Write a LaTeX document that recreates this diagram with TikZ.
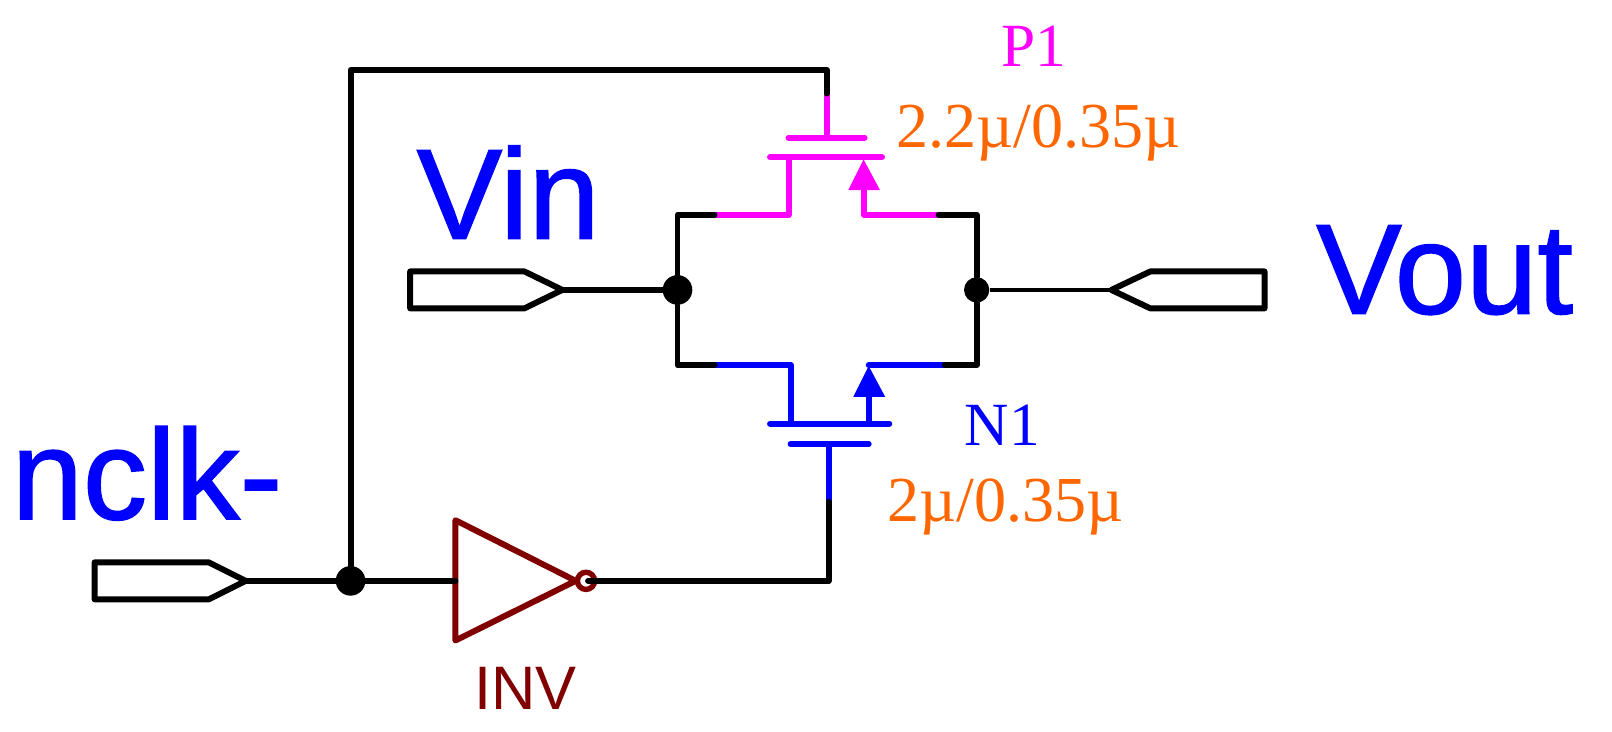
\documentclass[tikz,border=0pt]{standalone}
\usepackage{fontspec}
\setmainfont{Liberation Serif}
\setsansfont{Liberation Sans}
\newfontfamily\pinfont[FakeBold=1.2]{Liberation Sans}

\begin{document}
\begin{tikzpicture}[x=0.02cm,y=0.02cm]
\tikzstyle{every node}+=[inner sep=0pt]
\tikzstyle{wire}=[line width=3.3pt,line join=round,line cap=round]
\tikzstyle{thinwire}=[line width=1.9pt]
\tikzstyle{dot}=[circle,fill=black,draw=none]
\tikzstyle{pinlabel}=[blue,font=\pinfont\fontsize{71}{71}\selectfont,anchor=base west]
\tikzstyle{sizelabel}=[color=sizeorange,font=\fontsize{35.5}{36}\selectfont,anchor=base]
\tikzstyle{devlabel}=[font=\fontsize{34}{36}\selectfont,anchor=base]
\definecolor{sizeorange}{HTML}{FF6600}
\definecolor{invred}{HTML}{800000}
\definecolor{pmosmag}{HTML}{FF00FF}
\useasboundingbox (0,0) rectangle (1568,-712);
% pin labels
\node [pinlabel] (vinlabel) at (405,-232) {Vin};
\node [pinlabel] (voutlabel) at (1280,-305) {Vout};
\node [pinlabel] (nclklabel) at (11,-505) {nclk-};
% junctions
\node [dot,minimum size=16.4pt] (nclkdot) at (341,-565) {};
\node [dot,minimum size=16.4pt] (vindot) at (659,-282) {};
\node [dot,minimum size=14pt] (voutdot) at (950,-282) {};
% pins
\coordinate (nclkpin) at (239,-565);
\coordinate (vinpin) at (547,-282);
\coordinate (voutpin) at (1081,-282);
\draw [wire] (92,-547) -- (203,-547) -- (nclkpin) -- (203,-583) -- (92,-583) -- cycle;
\draw [wire] (399,-264) -- (510,-264) -- (vinpin) -- (510,-300) -- (399,-300) -- cycle;
\draw [wire] (voutpin) -- (1119,-264) -- (1230,-264) -- (1230,-300) -- (1119,-300) -- cycle;
% inverter
\coordinate (invin) at (443,-565);
\coordinate (invout) at (572,-565);
\draw [wire,color=invred] (443,-506) -- (560,-565) -- (443,-623) -- cycle;
\node [circle,draw=invred,line width=3pt,fill=white,minimum size=9.5pt] (bubble) at (570,-565) {};
\node [color=invred,font=\sffamily\fontsize{34}{34}\selectfont,anchor=base] (invlabel) at (511,-690) {INV};
% PMOS
\coordinate (pgate) at (804,-134);
\coordinate (pgatetop) at (804,-91);
\coordinate (pdrain) at (695,-209);
\coordinate (psource) at (913,-209);
\draw [wire,color=pmosmag] (767,-134) -- (841,-134);
\draw [wire,color=pmosmag] (749,-153) -- (858,-153);
\draw [wire,color=pmosmag] (pgatetop) -- (pgate);
\draw [wire,color=pmosmag] (767,-153) -- (767,-209) -- (pdrain);
\draw [wire,color=pmosmag] (psource) -- (840,-209) -- (840,-185);
\fill [pmosmag] (840,-155) -- (856,-185) -- (825,-185) -- cycle;
\node [devlabel,color=pmosmag] (p1label) at (1006,-65) {P1};
\node [sizelabel] (p1size) at (1010,-143) {2.2µ/0.35µ};
% NMOS
\coordinate (ngate) at (806,-432);
\coordinate (ngatebot) at (806,-488);
\coordinate (ndrain) at (695,-355);
\coordinate (nsource) at (919,-355);
\draw [wire,color=blue] (769,-432) -- (845,-432);
\draw [wire,color=blue] (749,-412) -- (865,-412);
\draw [wire,color=blue] (ngate) -- (ngatebot);
\draw [wire,color=blue] (ndrain) -- (769,-355) -- (769,-412);
\draw [wire,color=blue] (nsource) -- (845,-355);
\draw [wire,color=blue] (845,-412) -- (845,-386);
\fill [blue] (845,-356) -- (861,-386) -- (830,-386) -- cycle;
\node [devlabel,color=blue] (n1label) at (975,-433) {N1};
\node [sizelabel] (n1size) at (978,-507) {2µ/0.35µ};
% wires
\draw [wire] (nclkpin) -- (nclkdot) -- (invin);
\draw [wire] (nclkdot) -- (341,-68) -- (804,-68) -- (pgatetop);
\draw [wire] (invout) -- (806,-565) -- (ngatebot);
\draw [wire] (vinpin) -- (vindot);
\draw [wire] (pdrain) -- (659,-209) -- (vindot);
\draw [wire] (ndrain) -- (659,-355) -- (vindot);
\draw [wire] (psource) -- (950,-209) -- (voutdot);
\draw [wire] (nsource) -- (950,-355) -- (voutdot);
\draw [thinwire] (voutdot) -- (voutpin);
\end{tikzpicture}
\end{document}
